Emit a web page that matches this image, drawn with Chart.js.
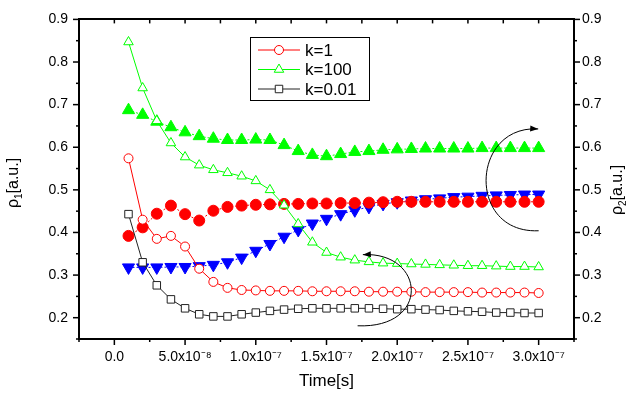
<!DOCTYPE html>
<html><head><meta charset="utf-8">
<script src="https://cdn.jsdelivr.net/npm/chart.js@4/dist/chart.umd.min.js"></script>
<style>html,body{margin:0;padding:0;background:#fff;}#wrap{width:629px;height:396px;}</style>
</head><body><div id="wrap"><canvas id="c" width="629" height="396"></canvas></div>
<script>
// ---- data ----
const times = [1e-8,2e-8,3e-8,4e-8,5e-8,6e-8,7e-8,8e-8,9e-8,1.0e-7,1.1e-7,1.2e-7,1.3e-7,1.4e-7,1.5e-7,1.6e-7,1.7e-7,1.8e-7,1.9e-7,2.0e-7,2.1e-7,2.2e-7,2.3e-7,2.4e-7,2.5e-7,2.6e-7,2.7e-7,2.8e-7,2.9e-7,3.0e-7];
const seriesLabels = ["k=1","k=100","k=0.01"];
const rho1_k1   = [0.574,0.430,0.385,0.392,0.367,0.315,0.284,0.270,0.265,0.264,0.263,0.263,0.263,0.262,0.262,0.262,0.262,0.261,0.261,0.261,0.261,0.260,0.260,0.260,0.260,0.259,0.259,0.259,0.259,0.258];
const rho1_k100 = [0.847,0.739,0.662,0.610,0.577,0.558,0.547,0.540,0.532,0.521,0.500,0.464,0.420,0.377,0.353,0.342,0.335,0.331,0.328,0.327,0.326,0.325,0.324,0.323,0.322,0.322,0.321,0.320,0.320,0.319];
const rho1_k001 = [0.443,0.330,0.276,0.243,0.222,0.208,0.203,0.203,0.208,0.212,0.216,0.219,0.221,0.222,0.222,0.222,0.222,0.222,0.221,0.220,0.220,0.219,0.218,0.216,0.215,0.214,0.212,0.212,0.211,0.211];
const rho2_k1   = [0.392,0.412,0.444,0.463,0.443,0.428,0.451,0.460,0.463,0.465,0.466,0.467,0.467,0.468,0.468,0.469,0.469,0.470,0.471,0.472,0.472,0.472,0.472,0.472,0.472,0.472,0.472,0.472,0.472,0.472];
const rho2_k100 = [0.687,0.676,0.660,0.647,0.635,0.626,0.620,0.617,0.617,0.618,0.617,0.605,0.591,0.582,0.579,0.584,0.589,0.591,0.594,0.595,0.596,0.597,0.597,0.597,0.597,0.598,0.598,0.598,0.598,0.598];
const rho2_k001 = [0.318,0.318,0.318,0.319,0.319,0.321,0.324,0.330,0.341,0.357,0.373,0.390,0.406,0.421,0.432,0.443,0.452,0.460,0.467,0.471,0.475,0.478,0.480,0.483,0.484,0.486,0.487,0.488,0.489,0.489];
// annotation arrows (data units: start, control1, control2, end)
const arrows = [
  [[3.0e-7,0.404],[2.49e-7,0.397],[2.52e-7,0.652],[2.997e-7,0.643]],
  [[1.72e-7,0.181],[2.24e-7,0.174],[2.20e-7,0.355],[1.757e-7,0.348]]
];

const FONT = "'Liberation Sans', Arial, sans-serif";
const pts = a => a.map((v,i)=>({x:times[i], y:v}));
const RED='#ff0000', GREEN='#00ff00', BLUE='#0000ff';

const sup = {'0':'⁰','1':'¹','2':'²','3':'³','4':'⁴','5':'⁵','6':'⁶','7':'⁷','8':'⁸','9':'⁹','-':'⁻'};
function xLabel(v){
  const n = Math.round(v/2.5e-8);
  if (n<0 || n%2) return '';
  if (n===0) return '0.0';
  const val = n*2.5e-8;
  const e = Math.floor(Math.log10(val)+1e-9);
  const m = val/Math.pow(10,e);
  return m.toFixed(1)+'x10'+String(e).split('').map(c=>sup[c]).join('');
}
function yLabel(v){
  const n = Math.round(v*20);
  return n%2===0 ? v.toFixed(1) : '';
}

const tickPlugin = {id:'tickmarks', afterDraw(chart){
  const ctx=chart.ctx, a=chart.chartArea, sx=chart.scales.x, sy=chart.scales.y;
  ctx.save(); ctx.strokeStyle='#000'; ctx.lineWidth=1.5;
  const ln=(x1,y1,x2,y2)=>{ctx.beginPath();ctx.moveTo(x1,y1);ctx.lineTo(x2,y2);ctx.stroke();};
  for(let i=-1;i<=13;i++){
    const px=sx.getPixelForValue(i*2.5e-8); const L=(i%2===0)?6:3;
    ln(px,a.bottom,px,a.bottom+L); ln(px,a.top,px,a.top+4);
  }
  for(let i=3;i<=18;i++){
    const py=sy.getPixelForValue(i*0.05); const L=(i%2===0)?6:3;
    ln(a.left-L,py,a.left,py); ln(a.right,py,a.right+L,py);
  }
  ctx.restore();
}};

function drawMarker(ctx,style,x,y,r,stroke,fill){
  ctx.beginPath();
  if(style==='circle'){ctx.arc(x,y,r,0,Math.PI*2);}
  else if(style==='triangle'){const h=r; ctx.moveTo(x,y-h); ctx.lineTo(x+h*0.866,y+h*0.5); ctx.lineTo(x-h*0.866,y+h*0.5); ctx.closePath();}
  else {const s=r*0.707; ctx.rect(x-s,y-s,2*s,2*s);}
  ctx.fillStyle=fill; ctx.fill(); ctx.strokeStyle=stroke; ctx.lineWidth=1; ctx.stroke();
}

const legendPlugin = {id:'boxlegend', afterDraw(chart){
  const ctx=chart.ctx;
  ctx.save();
  const L=250,T=37,R=369,B=100;
  ctx.fillStyle='#fff'; ctx.fillRect(L,T,R-L,B-T);
  ctx.strokeStyle='#000'; ctx.lineWidth=1; ctx.strokeRect(L+0.5,T+0.5,R-L,B-T);
  const rows=[50,69.5,89];
  for(let i=0;i<3;i++){
    const ds=chart.data.datasets[i];
    ctx.strokeStyle=ds.borderColor; ctx.lineWidth=1;
    ctx.beginPath(); ctx.moveTo(258,rows[i]); ctx.lineTo(300,rows[i]); ctx.stroke();
    drawMarker(ctx, ds.pointStyle, 279, rows[i], ds.pointRadius, ds.pointBorderColor, '#fff');
    ctx.fillStyle='#000'; ctx.font='17px '+FONT; ctx.textBaseline='middle'; ctx.textAlign='left';
    ctx.fillText(ds.label, 305, rows[i]+1);
  }
  ctx.restore();
}};

const arrowPlugin = {id:'arrows', afterDatasetsDraw(chart){
  const ctx=chart.ctx, sx=chart.scales.x, sy=chart.scales.y;
  ctx.save(); ctx.strokeStyle='#000'; ctx.fillStyle='#000'; ctx.lineWidth=1;
  for(const a of arrows){
    const p=a.map(q=>[sx.getPixelForValue(q[0]), sy.getPixelForValue(q[1])]);
    ctx.beginPath(); ctx.moveTo(p[0][0],p[0][1]);
    ctx.bezierCurveTo(p[1][0],p[1][1],p[2][0],p[2][1],p[3][0],p[3][1]); ctx.stroke();
    const ang=Math.atan2(p[3][1]-p[2][1], p[3][0]-p[2][0]);
    const ex=p[3][0], ey=p[3][1];
    ctx.beginPath(); ctx.moveTo(ex,ey);
    ctx.lineTo(ex-8*Math.cos(ang)+3*Math.sin(ang), ey-8*Math.sin(ang)-3*Math.cos(ang));
    ctx.lineTo(ex-8*Math.cos(ang)-3*Math.sin(ang), ey-8*Math.sin(ang)+3*Math.cos(ang));
    ctx.closePath(); ctx.fill();
  }
  ctx.restore();
}};

const titlePlugin = {id:'titles', afterDraw(chart){
  const ctx=chart.ctx, a=chart.chartArea;
  ctx.save(); ctx.fillStyle='#000';
  ctx.font='17px '+FONT; ctx.textAlign='center'; ctx.textBaseline='middle';
  ctx.fillText('Time[s]', (a.left+a.right)/2, 381);
  function yt(cx,cy,sub){
    ctx.save(); ctx.translate(cx,cy); ctx.rotate(-Math.PI/2);
    ctx.font='16px '+FONT; ctx.textBaseline='alphabetic'; ctx.textAlign='left';
    const w1=ctx.measureText('ρ').width;
    ctx.font='10px '+FONT; const w2=ctx.measureText(sub).width;
    ctx.font='16px '+FONT; const w3=ctx.measureText('[a.u.]').width;
    let x=-(w1+w2+w3)/2;
    ctx.fillText('ρ',x,5); x+=w1;
    ctx.font='10px '+FONT; ctx.fillText(sub,x,9); x+=w2;
    ctx.font='16px '+FONT; ctx.fillText('[a.u.]',x,5);
    ctx.restore();
  }
  yt(13,183,'1'); yt(617,190,'2');
  ctx.restore();
}};

const openDs = (label,data,color,style,r)=>({label,data:pts(data),xAxisID:'x',yAxisID:'y',
  borderColor:color,borderWidth:1,pointStyle:style,pointRadius:r,pointBorderColor:color,pointBackgroundColor:'#fff',pointBorderWidth:1,tension:0,fill:false});
const fillDs = (label,data,color,style,r,rot)=>({label,data:pts(data),xAxisID:'x',yAxisID:'y2',
  borderColor:color,borderWidth:1,borderDash:[2,2],pointStyle:style,pointRadius:r,pointRotation:rot,pointBorderColor:color,pointBackgroundColor:color,pointBorderWidth:1,tension:0,fill:false});

new Chart(document.getElementById('c'),{
  type:'line',
  data:{datasets:[
    openDs(seriesLabels[0], rho1_k1, RED, 'circle', 4.5),
    openDs(seriesLabels[1], rho1_k100, GREEN, 'triangle', 5.5),
    openDs(seriesLabels[2], rho1_k001, '#222', 'rect', 5.3),
    fillDs(seriesLabels[0]+' ρ2', rho2_k1, RED, 'circle', 5.5, 0),
    fillDs(seriesLabels[1]+' ρ2', rho2_k100, GREEN, 'triangle', 7, 0),
    fillDs(seriesLabels[2]+' ρ2', rho2_k001, BLUE, 'triangle', 7, 180)
  ]},
  options:{
    responsive:false, animation:false, devicePixelRatio:1,
    layout:{padding:0},
    plugins:{legend:{display:false}, tooltip:{enabled:false}},
    scales:{
      x:{type:'linear',position:'bottom',min:-2.5e-8,max:3.25e-7,
        grid:{display:false,drawTicks:false},border:{display:true,color:'#000',width:2},
        ticks:{stepSize:2.5e-8,autoSkip:false,maxRotation:0,padding:10,color:'#000',font:{family:FONT,size:14},callback:xLabel},
        afterFit:s=>{s.height=57;}},
      x2:{type:'linear',position:'top',min:-2.5e-8,max:3.25e-7,
        grid:{display:false,drawTicks:false},border:{display:true,color:'#000',width:2},
        ticks:{display:false},afterFit:s=>{s.height=15;}},
      y:{type:'linear',position:'left',min:0.15,max:0.9,
        grid:{display:false,drawTicks:false},border:{display:true,color:'#000',width:2},
        ticks:{stepSize:0.05,autoSkip:false,padding:11,color:'#000',font:{family:FONT,size:14},callback:yLabel},
        afterFit:s=>{s.width=79;}},
      y2:{type:'linear',position:'right',min:0.15,max:0.9,
        grid:{display:false,drawTicks:false},border:{display:true,color:'#000',width:2},
        ticks:{stepSize:0.05,autoSkip:false,padding:8,color:'#000',font:{family:FONT,size:14},callback:yLabel},
        afterFit:s=>{s.width=55;}}
    }
  },
  plugins:[tickPlugin,arrowPlugin,legendPlugin,titlePlugin]
});
</script></body></html>
